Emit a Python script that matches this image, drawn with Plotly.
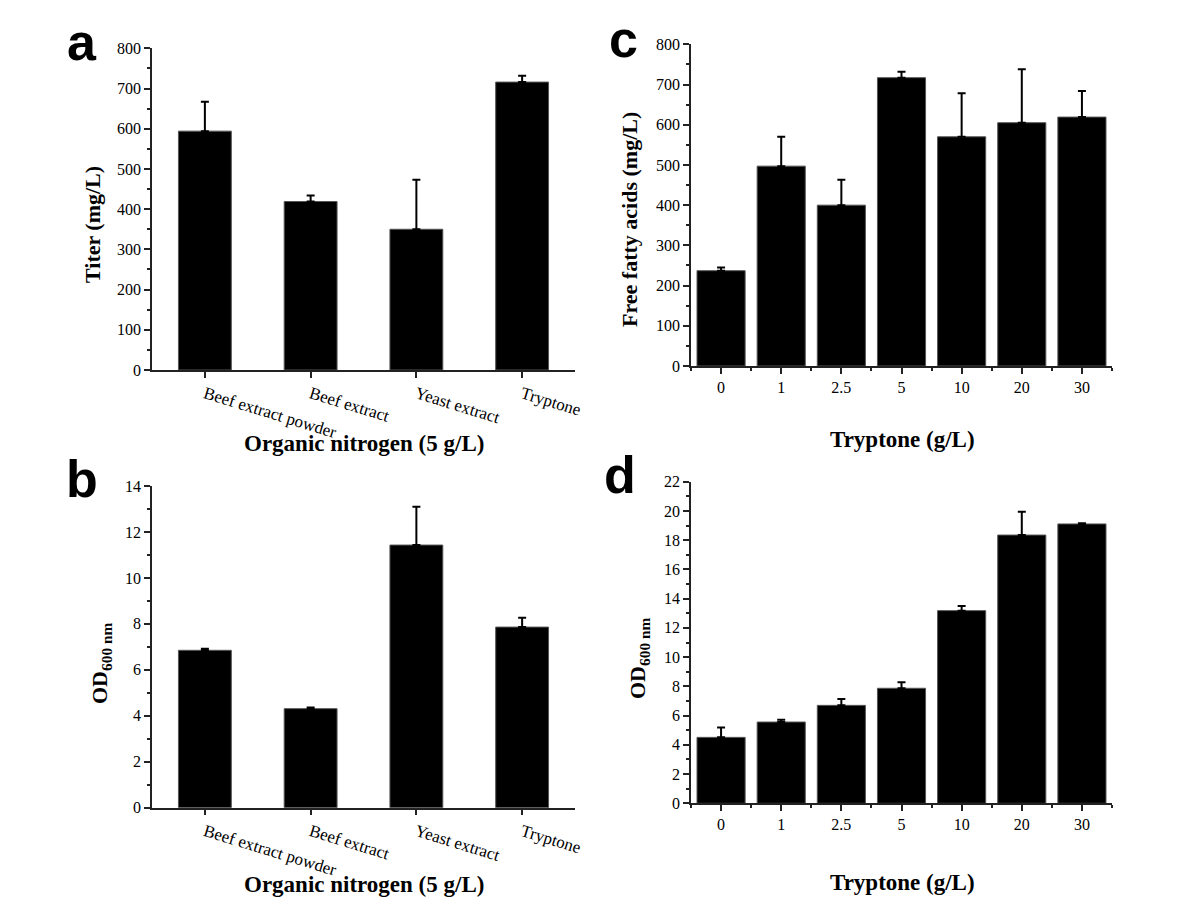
import plotly.graph_objects as go

# panels a/b: organic nitrogen source (5 g/L)
nitrogen = ["Beef extract powder", "Beef extract", "Yeast extract", "Tryptone"]
titer = [594, 419, 350, 716]
titer_err = [73, 15, 123, 16]
od_nitrogen = [6.85, 4.31, 11.43, 7.86]
od_nitrogen_err = [0.07, 0.05, 1.67, 0.41]

# panels c/d: tryptone concentration (g/L)
tryptone = ["0", "1", "2.5", "5", "10", "20", "30"]
ffa = [237, 497, 400, 717, 570, 605, 619]
ffa_err = [8, 73, 63, 15, 108, 133, 65]
od_tryptone = [4.51, 5.56, 6.70, 7.87, 13.18, 18.35, 19.11]
od_tryptone_err = [0.67, 0.16, 0.44, 0.41, 0.32, 1.60, 0.04]

W, H = 1200, 920
PAGE_PAD = 8  # default body margin of the html page
SERIF = "Liberation Serif"


def bar(x, y, err, xa, ya, width):
    return go.Bar(
        x=x, y=y, xaxis=xa, yaxis=ya, showlegend=False, width=width,
        marker=dict(color="black", line=dict(color="#555", width=1)),
        error_y=dict(type="data", array=err, arrayminus=[0] * len(err),
                     symmetric=False, color="black", thickness=2, width=4),
    )


idx = list(range(len(tryptone)))
fig = go.Figure()
fig.add_trace(bar(nitrogen, titer, titer_err, "x", "y", 0.5))
fig.add_trace(bar(nitrogen, od_nitrogen, od_nitrogen_err, "x2", "y2", 0.5))
fig.add_trace(bar(idx, ffa, ffa_err, "x3", "y3", 0.8))
fig.add_trace(bar(idx, od_tryptone, od_tryptone_err, "x4", "y4", 0.8))

axline = dict(showline=True, linecolor="#222", linewidth=1.5, ticks="outside",
              tickcolor="#222", tickwidth=1.5, ticklen=6, showgrid=False,
              zeroline=False, automargin=False,
              tickfont=dict(family=SERIF, size=16, color="black"))
minor_y = dict(ticklen=3, ticks="outside", tickcolor="#222", tickwidth=1.5)


def px(v):
    return (v - PAGE_PAD) / W


def py(v):
    return 1 - (v - PAGE_PAD) / H


xa_cat = dict(axline, type="category", tickangle=17, range=[-0.5, 3.5],
              tickfont=dict(family=SERIF, size=17, color="black"))
xa_num = dict(axline, range=[-0.5, 6.5], tickmode="array", tickvals=idx,
              ticktext=tryptone, tickangle=0,
              minor=dict(tickmode="linear", tick0=0.5, dtick=1, ticklen=3,
                         ticks="outside", tickcolor="#222", tickwidth=1.5))

fig.update_layout(
    width=W, height=H, plot_bgcolor="white", paper_bgcolor="white",
    margin=dict(l=0, r=0, t=0, b=0, autoexpand=False),
    xaxis=dict(xa_cat, domain=[px(152), px(575)], anchor="y"),
    yaxis=dict(axline, domain=[py(370), py(48.3)], range=[0, 800], dtick=100,
               minor=dict(minor_y, dtick=50), anchor="x"),
    xaxis2=dict(xa_cat, domain=[px(152), px(575)], anchor="y2"),
    yaxis2=dict(axline, domain=[py(807.7), py(486)], range=[0, 14], dtick=2,
                minor=dict(minor_y, dtick=1), anchor="x2"),
    xaxis3=dict(xa_num, domain=[px(691), px(1112)], anchor="y3"),
    yaxis3=dict(axline, domain=[py(366), py(44.3)], range=[0, 800], dtick=100,
                minor=dict(minor_y, dtick=50), anchor="x3"),
    xaxis4=dict(xa_num, domain=[px(691), px(1112)], anchor="y4"),
    yaxis4=dict(axline, domain=[py(803.3), py(481.7)], range=[0, 22], dtick=2,
                minor=dict(minor_y, dtick=1), anchor="x4"),
)

notes = [
    # panel letters
    ("a", 82, 42, 0, "Liberation Sans", 52),
    ("b", 82, 479, 0, "Liberation Sans", 52),
    ("c", 623, 39, 0, "Liberation Sans", 52),
    ("d", 620, 475, 0, "Liberation Sans", 52),
    # axis titles
    ("Titer (mg/L)", 92, 225, -90, SERIF, 22),
    ("OD<sub>600 nm</sub>", 101, 664, -90, SERIF, 22),
    ("Free fatty acids (mg/L)", 629, 220, -90, SERIF, 22),
    ("OD<sub>600 nm</sub>", 639, 659, -90, SERIF, 22),
    ("Organic nitrogen (5 g/L)", 364, 444, 0, SERIF, 23),
    ("Organic nitrogen (5 g/L)", 364, 884, 0, SERIF, 23),
    ("Tryptone (g/L)", 902, 440, 0, SERIF, 23),
    ("Tryptone (g/L)", 902, 882, 0, SERIF, 23),
]
for text, x, y, ang, fam, size in notes:
    fig.add_annotation(text="<b>" + text + "</b>", x=px(x), y=py(y),
                       xref="paper", yref="paper", showarrow=False,
                       xanchor="center", yanchor="middle", textangle=ang,
                       font=dict(family=fam, size=size, color="black"))

fig.write_html("out.html")
